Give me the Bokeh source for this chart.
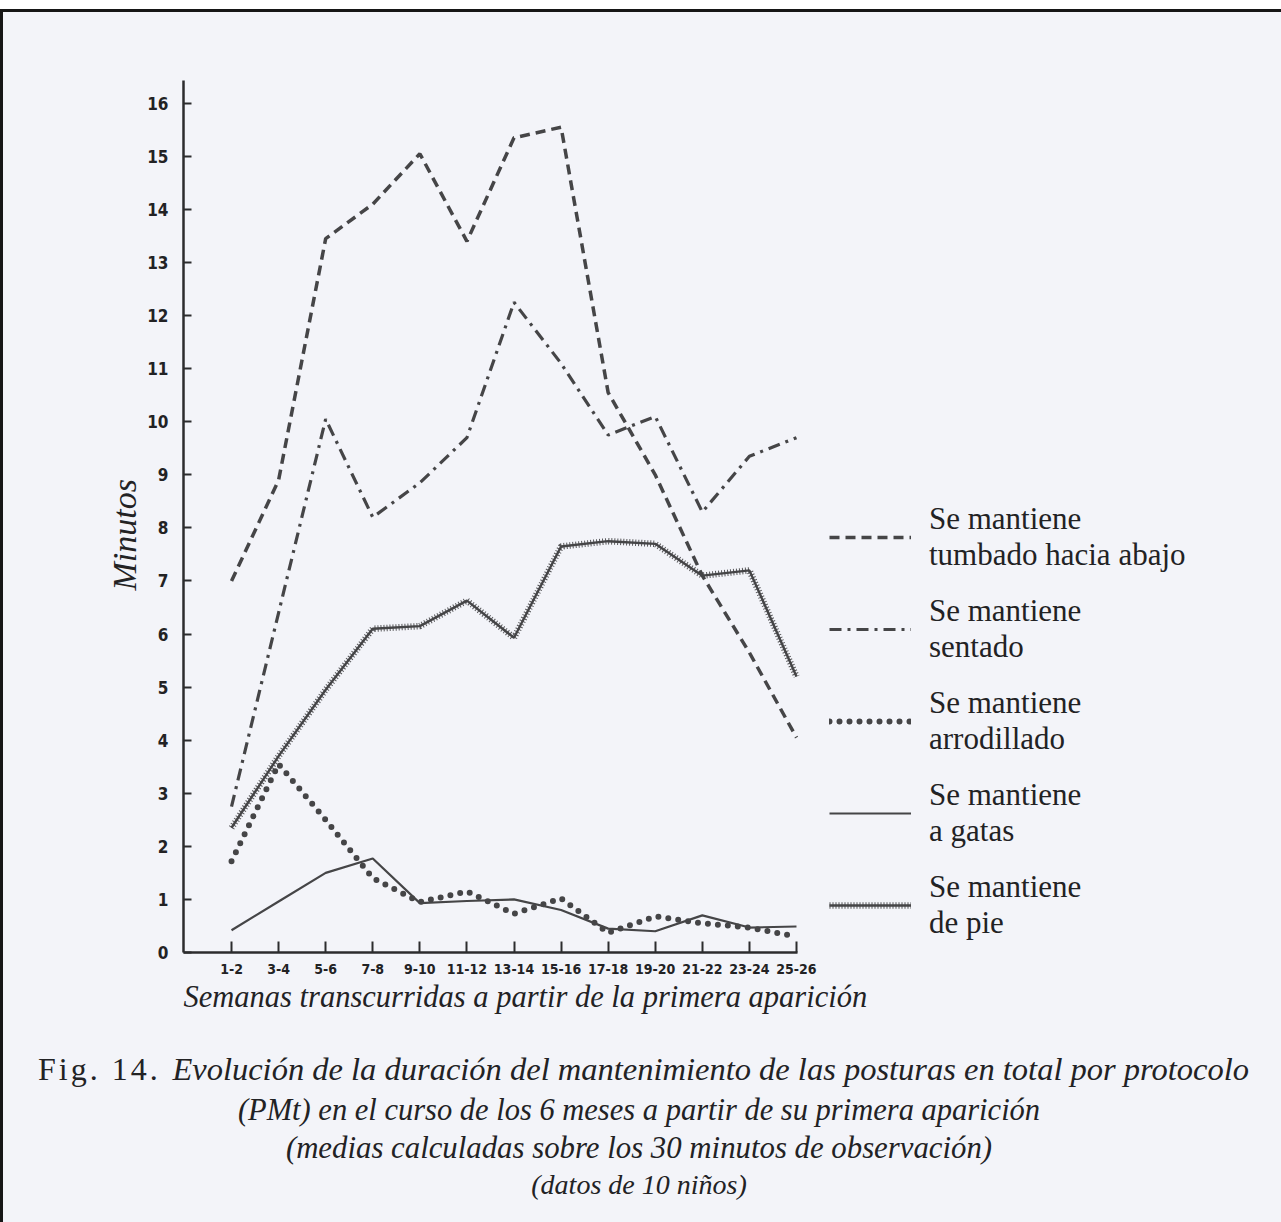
from bokeh.plotting import figure
from bokeh.layouts import column
from bokeh.models import Range1d, FixedTicker, Legend, LegendItem, Title, Div
from bokeh.embed import file_html
from bokeh.resources import INLINE

# ---------------- data ----------------
weeks = ["1-2", "3-4", "5-6", "7-8", "9-10", "11-12", "13-14",
         "15-16", "17-18", "19-20", "21-22", "23-24", "25-26"]
tumbado = [7.0, 8.9, 13.45, 14.1, 15.05, 13.4, 15.35, 15.55, 10.55, 9.0, 7.1, 5.65, 4.05]
sentado = [2.75, 6.4, 10.05, 8.2, 8.85, 9.7, 12.25, 11.1, 9.75, 10.1, 8.3, 9.35, 9.7]
arrodillado = [1.72, 3.55, 2.5, 1.4, 0.95, 1.15, 0.73, 1.02, 0.37, 0.68, 0.55, 0.47, 0.3]
gatas = [0.42, 0.96, 1.5, 1.77, 0.93, 0.97, 1.0, 0.8, 0.45, 0.4, 0.7, 0.47, 0.49]
pie = [2.35, 3.7, 4.95, 6.1, 6.15, 6.63, 5.93, 7.65, 7.75, 7.7, 7.1, 7.2, 5.2]
y_ticks = list(range(0, 17))

labels = ["Se mantiene\ntumbado hacia abajo", "Se mantiene\nsentado",
          "Se mantiene\narrodillado", "Se mantiene\na gatas", "Se mantiene\nde pie"]

x_title = "Semanas transcurridas a partir de la primera aparición"
y_title = "Minutos"
cap_fig = "Fig. 14."
cap_lines = ["Evolución de la duración del mantenimiento de las posturas en total por protocolo",
             "(PMt) en el curso de los 6 meses a partir de su primera aparición",
             "(medias calculadas sobre los 30 minutos de observación)",
             "(datos de 10 niños)"]

# ---------------- layout ----------------
BG = "#f3f4f9"
INK = "#454547"
TXT = "#222224"
SERIF = "Liberation Serif"
NARROW = "DejaVu Sans Condensed"

W, H = 1278, 1018
LEFT, TOP, RIGHT, BOTTOM = 180, 68, 10, 78
PX_PER_WEEK = 47.08
X0 = -1.02
X1 = X0 + (W - LEFT - RIGHT) / PX_PER_WEEK
Y1 = 16.43

x = list(range(len(weeks)))

p = figure(width=W, height=H, x_range=Range1d(X0, X1), y_range=Range1d(0, Y1),
           output_backend="svg", toolbar_location=None,
           min_border_left=LEFT, min_border_right=RIGHT,
           min_border_top=TOP, min_border_bottom=BOTTOM)
p.background_fill_color = BG
p.border_fill_color = BG
p.outline_line_color = None
p.grid.visible = False

# axes
for ax in (p.xaxis[0], p.yaxis[0]):
    ax.axis_line_color = "#2c2c2e"
    ax.axis_line_width = 2.5
    ax.major_tick_line_color = "#2c2c2e"
    ax.major_tick_line_width = 2
    ax.minor_tick_line_color = None
    ax.major_tick_out = 0
    ax.major_label_text_color = TXT
    ax.major_label_text_font = NARROW
    ax.major_label_text_font_style = "bold"

p.xaxis.bounds = (X0, 12.03)
p.xaxis.ticker = FixedTicker(ticks=x)
p.xaxis.major_label_overrides = {i: w for i, w in enumerate(weeks)}
p.xaxis.major_tick_in = 11
p.xaxis.major_label_text_font_size = "14px"
p.xaxis.major_label_standoff = 11

p.yaxis.ticker = FixedTicker(ticks=y_ticks)
p.yaxis.major_tick_in = 8
p.yaxis.major_label_text_font_size = "17px"
p.yaxis.major_label_standoff = 15

p.add_layout(Title(text=y_title, align="left", offset=362, text_font=SERIF,
                   text_font_style="italic", text_font_size="34px",
                   text_color=TXT, standoff=4), "left")
p.add_layout(Title(text=x_title, align="left", offset=0, text_font=SERIF,
                   text_font_style="italic", text_font_size="30.5px",
                   text_color=TXT, standoff=2), "below")

# series
r_tum = p.line(x, tumbado, line_color=INK, line_width=3.5, line_dash="10 6")
r_sen = p.line(x, sentado, line_color=INK, line_width=3.2, line_dash="12 6 3 6")
r_arr = p.line(x, arrodillado, line_color=INK, line_width=6, line_dash="0 10", line_cap="round")
r_gat = p.line(x, gatas, line_color=INK, line_width=2.2)
r_pie_a = p.line(x, pie, line_color=INK, line_width=2.4)
r_pie_b = p.line(x, pie, line_color=INK, line_width=6.5, line_dash="1 2", line_alpha=0.9)

legend = Legend(items=[
    LegendItem(label=labels[0], renderers=[r_tum]),
    LegendItem(label=labels[1], renderers=[r_sen]),
    LegendItem(label=labels[2], renderers=[r_arr]),
    LegendItem(label=labels[3], renderers=[r_gat]),
    LegendItem(label=labels[4], renderers=[r_pie_a, r_pie_b]),
], location=(646, 11))
legend.glyph_width = 82
legend.glyph_height = 24
legend.label_standoff = 18
legend.spacing = 20
legend.padding = 0
legend.margin = 0
legend.border_line_alpha = 0
legend.background_fill_alpha = 0
legend.label_text_font = SERIF
legend.label_text_font_size = "31px"
legend.label_text_color = TXT
legend.label_text_line_height = 1.05
p.add_layout(legend)

# ---------------- caption (HTML text block under the chart) ----------------
CH = 1222 - 12 - H


def line_div(text, top, size, extra, italic=True):
    style = ("position:absolute;top:%dpx;height:40px;line-height:40px;white-space:nowrap;"
             "font-size:%s;font-style:%s;%s" % (top, size, "italic" if italic else "normal", extra))
    return '<div style="%s">%s</div>' % (style, text)


html = ('<div style="position:relative;width:%dpx;height:%dpx;background:%s;'
        'font-family:\'%s\',serif;color:%s;">' % (W, CH, BG, SERIF, TXT))
html += line_div(cap_fig, 14, "32px", "left:30px;letter-spacing:3px;", italic=False)
html += line_div(cap_lines[0], 14, "32.5px", "right:37px;")
html += line_div(cap_lines[1], 55, "30.5px", "left:0;width:1262px;text-align:center;")
html += line_div(cap_lines[2], 93, "30.8px", "left:0;width:1262px;text-align:center;")
html += line_div(cap_lines[3], 130, "28px", "left:0;width:1262px;text-align:center;")
html += '</div>'

caption = Div(text=html, width=W, height=CH, styles={"background-color": BG})

page = column(p, caption, spacing=0,
              styles={"border-top": "3px solid #161616", "border-left": "3px solid #161616",
                      "margin-top": "9px", "background-color": BG})

open("out.html", "w").write(file_html(page, INLINE))
